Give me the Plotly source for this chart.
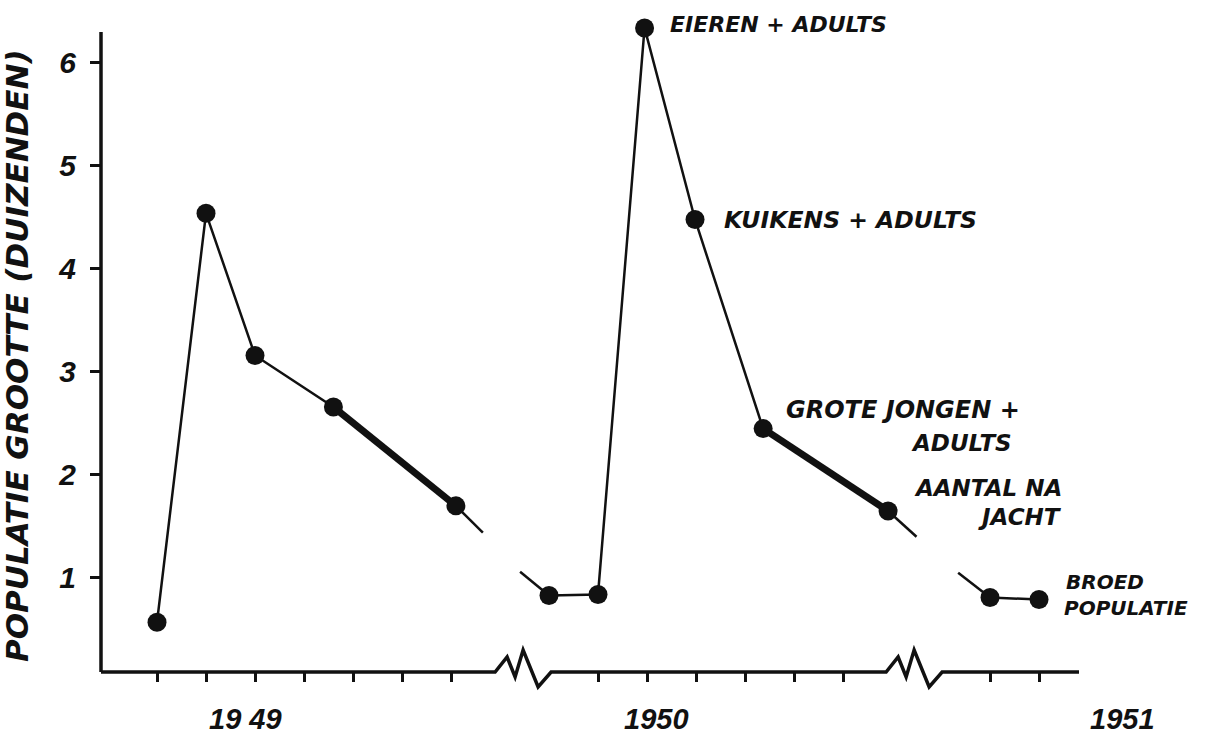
import plotly.graph_objects as go

# ---------------- data (x in tick units along the broken time axis) ----------------
x_1949 = [0, 1, 2, 3.6, 6.1]
y_1949 = [0.57, 4.54, 3.16, 2.66, 1.70]
x_1950 = [8, 9, 9.95, 10.98, 12.37, 14.92]
y_1950 = [0.83, 0.84, 6.34, 4.48, 2.45, 1.65]
x_1951 = [17, 18]
y_1951 = [0.81, 0.79]

# line stubs running into / out of the axis breaks
x_out_1949, y_out_1949 = [6.1, 6.65], [1.70, 1.44]
x_in_1950, y_in_1950 = [7.41, 8], [1.06, 0.83]
x_out_1950, y_out_1950 = [14.92, 15.5], [1.65, 1.40]
x_in_1951, y_in_1951 = [16.35, 17], [1.05, 0.81]

# heavy (hunting season) segments: index pairs within each year
thick_1949 = (3, 4)
thick_1950 = (4, 5)

tick_pos = [0, 1, 2, 3, 4, 5, 6, 9, 10, 11, 12, 13, 14, 17, 18]
y_ticks = [1, 2, 3, 4, 5, 6]
year_labels = ["19 49", "1950", "1951"]
year_pos = [1.8, 10.2, 19.7]
break_starts = [6.9, 14.88]

# ---------------- layout constants ----------------
X_RANGE = [-1.143, 18.816]
Y_RANGE = [0.087, 6.417]
AX_TOP = 6.30
PX_PER_X = 49.0
PLOT_H = 652.0

FONT = "DejaVu Sans"
NUMFONT = "Liberation Sans"
INK = "#111111"

def xpaper(k):
    return (k - X_RANGE[0]) / (X_RANGE[1] - X_RANGE[0])

fig = go.Figure()

def line(xs, ys, w):
    fig.add_trace(go.Scatter(x=xs, y=ys, mode="lines",
                             line=dict(color=INK, width=w),
                             hoverinfo="skip", showlegend=False))

line(x_1949, y_1949, 2.5)
line(x_out_1949, y_out_1949, 2.5)
line(x_in_1950, y_in_1950, 2.5)
line(x_1950, y_1950, 2.5)
line(x_out_1950, y_out_1950, 2.5)
line(x_in_1951, y_in_1951, 2.5)
line(x_1951, y_1951, 2.5)
a, b = thick_1949
line(x_1949[a:b + 1], y_1949[a:b + 1], 7)
a, b = thick_1950
line(x_1950[a:b + 1], y_1950[a:b + 1], 7)

for xs, ys in [(x_1949, y_1949), (x_1950, y_1950), (x_1951, y_1951)]:
    fig.add_trace(go.Scatter(x=xs, y=ys, mode="markers", cliponaxis=False,
                             marker=dict(size=19, color=INK, line=dict(width=0)),
                             hoverinfo="skip", showlegend=False))

# ---------------- broken x axis line ----------------
zig = [(0, 0), (12, -15), (20, 5), (28, -22), (43, 15), (56, 0)]
pts = [(X_RANGE[0], 0.0)]
for bs in break_starts:
    for dx, dy in zig:
        pts.append((bs + dx / PX_PER_X, -dy / PLOT_H))
pts.append((X_RANGE[1], 0.0))
path = "M " + " L ".join(f"{px:.4f},{py:.4f}" for px, py in pts)
fig.add_shape(type="path", path=path, xref="x", yref="paper",
              line=dict(color=INK, width=3.5), layer="above")

# y axis line
fig.add_shape(type="line", xref="paper", yref="y", x0=0, x1=0,
              y0=Y_RANGE[0], y1=AX_TOP, line=dict(color=INK, width=3.5))

# ---------------- annotations ----------------
labels = [
    ("EIEREN + ADULTS", x_1950[2], y_1950[2], 24, 3, 22),
    ("KUIKENS + ADULTS", x_1950[3], y_1950[3], 28, 0, 23.5),
    ("GROTE JONGEN +", x_1950[4], y_1950[4], 22, 19, 24),
    ("ADULTS", x_1950[4], y_1950[4], 147, -14, 23),
    ("AANTAL NA", x_1950[5], y_1950[5], 25, 23, 23),
    ("JACHT", x_1950[5], y_1950[5], 89, -6, 23),
    ("BROED", x_1951[1], y_1951[1], 26, 18, 20),
    ("POPULATIE", x_1951[1], y_1951[1], 24, -8, 20),
]
for txt, ax_, ay_, xs, ys, fs in labels:
    fig.add_annotation(text=txt, x=ax_, y=ay_, xref="x", yref="y",
                       xanchor="left", yanchor="middle", xshift=xs, yshift=ys,
                       showarrow=False, borderpad=0,
                       font=dict(family=FONT, size=fs, color=INK, style="italic", weight="bold"))

for lab, pos in zip(year_labels, year_pos):
    fig.add_annotation(text=lab, x=xpaper(pos), y=-0.072, xref="paper", yref="paper",
                       xanchor="center", yanchor="middle", showarrow=False,
                       font=dict(family=NUMFONT, size=29, color=INK, style="italic", weight="bold"))

fig.add_annotation(text="POPULATIE GROOTTE (DUIZENDEN)", x=-0.086, y=0.486,
                   xref="paper", yref="paper", xanchor="center", yanchor="middle",
                   textangle=-90, showarrow=False,
                   font=dict(family=FONT, size=31, color=INK, style="italic", weight="bold"))

fig.update_layout(
    width=1206, height=737,
    margin=dict(l=101, r=127, t=20, b=65),
    paper_bgcolor="white", plot_bgcolor="white",
    xaxis=dict(range=X_RANGE, showgrid=False, zeroline=False, showline=False,
               tickmode="array", tickvals=tick_pos, showticklabels=False,
               ticks="outside", ticklen=9, tickwidth=2.5, tickcolor=INK),
    yaxis=dict(range=Y_RANGE, showgrid=False, zeroline=False, showline=False,
               tickmode="array", tickvals=y_ticks, ticktext=[str(v) for v in y_ticks],
               ticks="outside", ticklen=10, tickwidth=2.5, tickcolor=INK,
               ticklabelstandoff=8,
               tickfont=dict(family=NUMFONT, size=30, color=INK, style="italic", weight="bold")),
)

fig.write_html("out.html", config={"displayModeBar": False},
               post_script="document.body.style.margin='0px';")
